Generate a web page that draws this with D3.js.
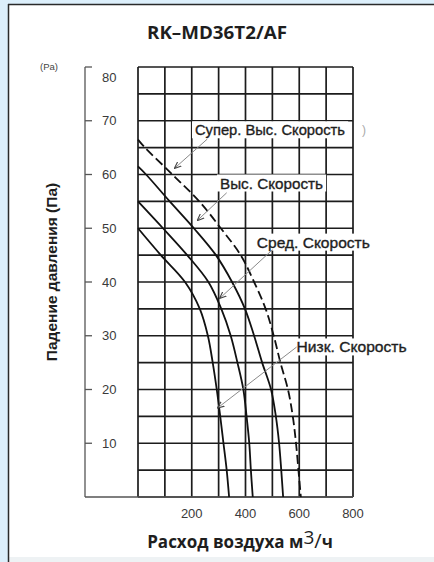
<!DOCTYPE html>
<html><head><meta charset="utf-8">
<script src="https://cdn.jsdelivr.net/npm/d3@7"></script>
<style>
html,body{margin:0;padding:0;background:#dceffb;}
svg{display:block;}
</style>
</head><body>
<svg id="c" width="434" height="562"></svg>
<script>
// ---- data ----
const chartTitle = "RK–MD36T2/AF";
const yUnit = "(Pa)";
const yTitle = "Падение давления (Па)";
const xTitleMain = "Расход воздуха м";
const xTicks = [200, 400, 600, 800];
const yTicks = [10, 20, 30, 40, 50, 60, 70, 80];
const gridX = [0, 100, 200, 300, 400, 500, 600, 700, 800];
const gridY = [0, 5, 10, 15, 20, 25, 30, 35, 40, 45, 50, 55, 60, 65, 70, 75, 80];

const lowQ = [0, 85, 175, 230, 260, 278, 293, 306, 318, 330, 339];
const lowP = [50, 45, 40, 35, 30, 25, 20, 15, 10, 5, 0];
const medQ = [0, 93, 183, 262, 310, 345, 370, 392, 404, 414, 420, 427];
const medP = [55, 50, 45, 40, 35, 30, 25, 20, 15, 10, 5, 0];
const highQ = [0, 30, 118, 208, 290, 350, 398, 432, 462, 495, 513, 525, 533, 540];
const highP = [61.5, 60, 55, 50, 45, 40, 35, 30, 25, 20, 15, 10, 5, 0];
const superQ = [0, 26, 128, 228, 308, 382, 432, 475, 505, 530, 558, 576, 588, 597, 606];
const superP = [66.5, 65, 60, 55, 50, 45, 40, 35, 30, 25, 20, 15, 10, 5, 0];

const seriesNames = ["Супер. Выс. Скорость", "Выс. Скорость", "Сред. Скорость", "Низк. Скорость"];

// ---- layout ----
const W = 434, H = 562;
const svg = d3.select("#c");
const x = d3.scaleLinear().domain([0, 800]).range([138, 353]);
const y = d3.scaleLinear().domain([0, 80]).range([497, 67]);

// frame
svg.append("rect").attr("x", 8).attr("y", 4).attr("width", W - 8).attr("height", 553).attr("fill", "#fff");
svg.append("rect").attr("x", 8).attr("y", 557).attr("width", W - 8).attr("height", 5).attr("fill", "#eef2f4");
svg.append("line").attr("x1", 8.5).attr("x2", 8.5).attr("y1", 4).attr("y2", H).attr("stroke", "#2a2a2a").attr("stroke-width", 1.5);
svg.append("line").attr("x1", 8).attr("x2", W).attr("y1", 4.5).attr("y2", 4.5).attr("stroke", "#2a2a2a").attr("stroke-width", 1.5);

// title
svg.append("text").attr("x", 217).attr("y", 39).attr("text-anchor", "middle")
  .attr("font-family", "Open Sans").attr("font-weight", "bold").attr("font-size", 17).attr("fill", "#1e1e1e")
  .attr("textLength", 140).attr("lengthAdjust", "spacingAndGlyphs")
  .text(chartTitle);

// unit
svg.append("text").attr("x", 40).attr("y", 70).attr("font-family", "Liberation Sans").attr("font-size", 9.5)
  .attr("fill", "#444").text(yUnit);

// grid
const g = svg.append("g");
g.selectAll(".vx").data(gridX).join("line")
  .attr("x1", d => x(d)).attr("x2", d => x(d)).attr("y1", y(80)).attr("y2", y(0))
  .attr("stroke", "#1c1c1c").attr("stroke-width", 1.7);
g.selectAll(".hy").data(gridY).join("line")
  .attr("x1", x(0)).attr("x2", x(800)).attr("y1", d => y(d)).attr("y2", d => y(d))
  .attr("stroke", "#1c1c1c").attr("stroke-width", 1.7);

// left axis (separate)
const axX = 85;
svg.append("line").attr("x1", axX).attr("x2", axX).attr("y1", y(80)).attr("y2", y(0)).attr("stroke", "#555").attr("stroke-width", 1.3);
svg.append("line").attr("x1", axX).attr("x2", x(800)).attr("y1", y(0)).attr("y2", y(0)).attr("stroke", "#555").attr("stroke-width", 1.3);
svg.selectAll(".yt").data(yTicks).join("line")
  .attr("x1", axX).attr("x2", axX + 7).attr("y1", d => y(d)).attr("y2", d => y(d))
  .attr("stroke", "#555").attr("stroke-width", 1.3);
svg.selectAll(".yl").data(yTicks).join("text")
  .attr("x", 102).attr("y", d => Math.max(y(d), y(80) + 10)).attr("dy", "0.36em")
  .attr("font-family", "Liberation Sans").attr("font-size", 13).attr("fill", "#3a3a3a")
  .text(d => d);
svg.selectAll(".xl").data(xTicks).join("text")
  .attr("x", d => x(d)).attr("y", 513).attr("dy", "0.36em").attr("text-anchor", "middle")
  .attr("font-family", "Liberation Sans").attr("font-size", 13).attr("fill", "#3a3a3a")
  .text(d => d);

// axis titles
svg.append("text").attr("transform", "translate(57,272) rotate(-90)").attr("text-anchor", "middle")
  .attr("font-family", "Liberation Sans").attr("font-weight", "bold").attr("font-size", 15.5).attr("fill", "#1e1e1e")
  .text(yTitle);
const xt = svg.append("text").attr("x", 240).attr("y", 548).attr("text-anchor", "middle")
  .attr("font-family", "Open Sans").attr("font-weight", "bold").attr("font-size", 17).attr("fill", "#1e1e1e");
xt.append("tspan").text(xTitleMain);
xt.append("tspan").attr("dy", -4).attr("font-size", 19).attr("font-weight", "normal").text("3");
xt.append("tspan").attr("dy", 4).attr("font-weight", "normal").attr("font-size", 20).text("/");
xt.append("tspan").text("ч");

// curves
const line = d3.line().x(d => x(d[0])).y(d => y(d[1])).curve(d3.curveCatmullRom.alpha(0.5));
const curves = [
  {q: superQ, p: superP, dash: "9,4"},
  {q: highQ, p: highP, dash: null},
  {q: medQ, p: medP, dash: null},
  {q: lowQ, p: lowP, dash: null}
];
svg.selectAll(".crv").data(curves).join("path")
  .attr("d", c => line(c.q.map((v, i) => [v, c.p[i]])))
  .attr("fill", "none").attr("stroke", "#111").attr("stroke-width", 1.8)
  .attr("stroke-dasharray", c => c.dash);

// annotations (label start & centre line, arrow from/to — data units)
const notes = [
  {t: seriesNames[0], lx: 212, ly: 68.3, w: 150, fx: 258, fy: 66.6, tx: 137, ty: 61.2},
  {t: seriesNames[1], lx: 305, ly: 58.4, w: 103, fx: 330, fy: 56.6, tx: 222, ty: 51.5},
  {t: seriesNames[2], lx: 442, ly: 47.4, w: 113, fx: 500, fy: 46, tx: 305, ty: 37},
  {t: seriesNames[3], lx: 590, ly: 27.9, w: 110, fx: 590, fy: 27.9, tx: 297, ty: 16.6}
];
const defs = svg.append("defs");
defs.append("marker").attr("id", "ah").attr("viewBox", "0 0 10 10").attr("refX", 9).attr("refY", 5)
  .attr("markerWidth", 7).attr("markerHeight", 7).attr("orient", "auto")
  .append("path").attr("d", "M0,1 L10,5 L0,9").attr("fill", "none").attr("stroke", "#444").attr("stroke-width", 1.6);

const ng = svg.append("g");
notes.forEach(n => {
  const tx = ng.append("text").attr("x", x(n.lx)).attr("y", y(n.ly)).attr("dy", "0.36em")
    .attr("font-family", "Liberation Sans").attr("font-size", 15).attr("fill", "#1e1e1e")
    .attr("stroke", "#1e1e1e").attr("stroke-width", 0.35)
    .attr("textLength", n.w).attr("lengthAdjust", "spacingAndGlyphs").text(n.t);
  const bb = tx.node().getBBox();
  ng.insert("rect", "text").attr("x", bb.x - 3).attr("y", bb.y).attr("width", bb.width + 6).attr("height", bb.height).attr("fill", "#fff");
  ng.append("line").attr("x1", x(n.fx)).attr("y1", y(n.fy)).attr("x2", x(n.tx)).attr("y2", y(n.ty))
    .attr("stroke", "#8a8a8a").attr("stroke-width", 1).attr("marker-end", "url(#ah)");
});
ng.append("text").attr("x", 362).attr("y", y(68.3)).attr("dy", "0.36em")
  .attr("font-family", "Liberation Sans").attr("font-size", 12).attr("fill", "#aaa").text(")");
</script>
</body></html>
